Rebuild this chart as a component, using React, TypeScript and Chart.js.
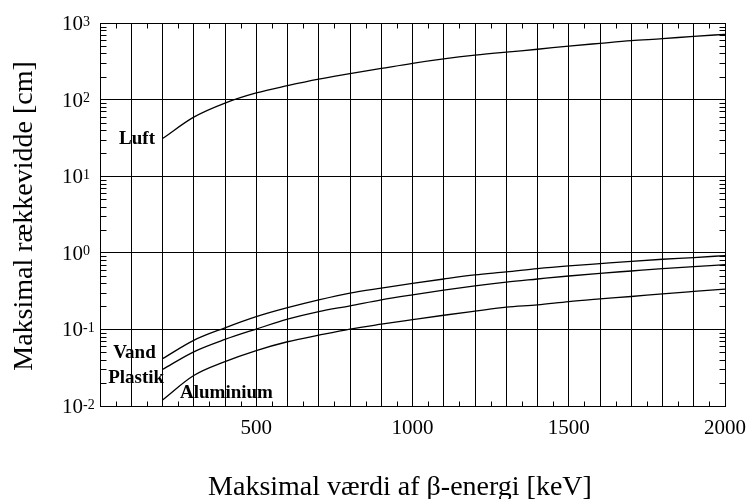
import React, { useEffect, useRef } from 'react';
import { Chart, registerables } from 'chart.js';

Chart.register(...registerables);

const FONT = '"Liberation Serif", "Times New Roman", Times, serif';

// Energies (keV)
const energies = [200, 300, 400, 500, 600, 700, 800, 900, 1000, 1100, 1200, 1300, 1400, 1500, 1600, 1700, 1800, 1900, 2000];
// Maximal range (cm)
const luft = [31, 59, 90, 122, 152, 185, 218, 255, 298, 340, 380, 417, 454, 500, 543, 588, 624, 670, 711];
const vand = [0.0415, 0.072, 0.105, 0.147, 0.192, 0.243, 0.298, 0.346, 0.398, 0.455, 0.514, 0.562, 0.621, 0.674, 0.723, 0.775, 0.824, 0.867, 0.92];
const plastik = [0.03, 0.051, 0.074, 0.101, 0.136, 0.171, 0.203, 0.243, 0.283, 0.326, 0.371, 0.415, 0.455, 0.498, 0.54, 0.579, 0.621, 0.66, 0.7];
const aluminium = [0.012, 0.025, 0.038, 0.053, 0.069, 0.084, 0.101, 0.117, 0.134, 0.153, 0.173, 0.195, 0.209, 0.231, 0.25, 0.269, 0.291, 0.313, 0.336];

// Curve labels (text, x in keV, y in cm at baseline)
const labelTexts = ['Luft', 'Vand', 'Plastik', 'Aluminium'];
const labelX = [61, 42, 26, 256];
const labelY = [26, 0.042, 0.0197, 0.0129];

// Axis ticks
const xTickLabels = [500, 1000, 1500, 2000];
const yDecades = [-2, -1, 0, 1, 2, 3];

const xTitle = 'Maksimal værdi af β-energi [keV]';
const yTitle = 'Maksimal rækkevidde [cm]';

const toPoints = (ys: number[]) => energies.map((e, i) => ({ x: e, y: ys[i] }));

const decorPlugin = {
  id: 'decor',
  afterDraw(chart: any) {
    const ctx = chart.ctx;
    const { left, right, top, bottom } = chart.chartArea;
    const xs = chart.scales.x;
    const ys = chart.scales.y;
    ctx.save();
    ctx.strokeStyle = '#000';
    ctx.lineWidth = 1;
    const L = Math.round(left) + 0.5;
    const R = Math.round(right) + 0.5;
    const T = Math.round(top) + 0.5;
    const B = Math.round(bottom) + 0.5;
    ctx.beginPath();
    ctx.rect(L, T, R - L, B - T);
    // x minor ticks
    for (let v = 50; v < 2000; v += 100) {
      const px = Math.round(xs.getPixelForValue(v)) + 0.5;
      ctx.moveTo(px, B);
      ctx.lineTo(px, B - 5);
      ctx.moveTo(px, T);
      ctx.lineTo(px, T + 5);
    }
    // y minor ticks
    for (let d = -2; d <= 2; d++) {
      for (let m = 2; m <= 9; m++) {
        const py = Math.round(ys.getPixelForValue(m * Math.pow(10, d))) + 0.5;
        ctx.moveTo(L, py);
        ctx.lineTo(L + 6, py);
        ctx.moveTo(R, py);
        ctx.lineTo(R - 6, py);
      }
    }
    ctx.stroke();

    ctx.fillStyle = '#000';
    // y tick labels 10^n
    for (const e of yDecades) {
      const py = ys.getPixelForValue(Math.pow(10, e));
      ctx.textAlign = 'left';
      ctx.textBaseline = 'alphabetic';
      ctx.font = `21px ${FONT}`;
      const baseX = 62;
      ctx.fillText('10', baseX, py + 7);
      const w = ctx.measureText('10').width;
      ctx.font = `14px ${FONT}`;
      ctx.fillText(String(e), baseX + w, py + 2.5);
    }

    // curve labels
    ctx.font = `bold 19px ${FONT}`;
    ctx.textAlign = 'left';
    ctx.textBaseline = 'alphabetic';
    labelTexts.forEach((t, i) => {
      ctx.fillText(t, xs.getPixelForValue(labelX[i]), ys.getPixelForValue(labelY[i]));
    });

    // axis titles
    ctx.font = `28px ${FONT}`;
    ctx.textAlign = 'center';
    ctx.textBaseline = 'alphabetic';
    ctx.fillText(xTitle, 400, 495);
    ctx.save();
    ctx.translate(25, 216);
    ctx.rotate(-Math.PI / 2);
    ctx.textBaseline = 'middle';
    ctx.fillText(yTitle, 0, 0);
    ctx.restore();
    ctx.restore();
  },
};

export default function App() {
  const ref = useRef<HTMLCanvasElement | null>(null);
  useEffect(() => {
    if (!ref.current) return;
    const mk = (label: string, ys: number[]) => ({
      label,
      data: toPoints(ys),
      borderColor: '#000',
      backgroundColor: '#000',
      borderWidth: 1.3,
      pointRadius: 0,
      cubicInterpolationMode: 'monotone' as const,
      fill: false,
    });
    const chart = new Chart(ref.current, {
      type: 'line',
      data: {
        datasets: [mk('Luft', luft), mk('Vand', vand), mk('Plastik', plastik), mk('Aluminium', aluminium)],
      },
      options: {
        animation: false,
        responsive: false,
        devicePixelRatio: 1,
        layout: { padding: { left: 0, right: 23, top: 23, bottom: 0 } },
        plugins: { legend: { display: false }, tooltip: { enabled: false } },
        scales: {
          x: {
            type: 'linear',
            min: 0,
            max: 2000,
            afterBuildTicks: (s: any) => {
              const t = [];
              for (let v = 0; v <= 2000; v += 100) t.push({ value: v });
              s.ticks = t;
            },
            afterFit: (s: any) => {
              s.height = 93;
              s.paddingLeft = 0;
              s.paddingRight = 0;
            },
            ticks: {
              autoSkip: false,
              maxRotation: 0,
              padding: 10,
              color: '#000',
              font: { family: FONT, size: 21 },
              callback: (v: any) => (xTickLabels.includes(Number(v)) ? String(v) : ''),
            },
            grid: { color: '#000', lineWidth: 1, drawTicks: false },
            border: { color: '#000', width: 1 },
          },
          y: {
            type: 'logarithmic',
            min: 0.01,
            max: 1000,
            afterBuildTicks: (s: any) => {
              s.ticks = yDecades.map((e) => ({ value: Math.pow(10, e) }));
            },
            afterFit: (s: any) => {
              s.width = 100;
              s.paddingTop = 0;
              s.paddingBottom = 0;
            },
            ticks: { display: false },
            grid: { color: '#000', lineWidth: 1, drawTicks: false },
            border: { color: '#000', width: 1 },
          },
        },
      },
      plugins: [decorPlugin],
    });
    return () => chart.destroy();
  }, []);
  return (
    <div style={{ position: 'absolute', left: 0, top: 0, width: 748, height: 499, background: '#fff' }}>
      <canvas ref={ref} width={748} height={499} style={{ display: 'block' }} />
    </div>
  );
}
